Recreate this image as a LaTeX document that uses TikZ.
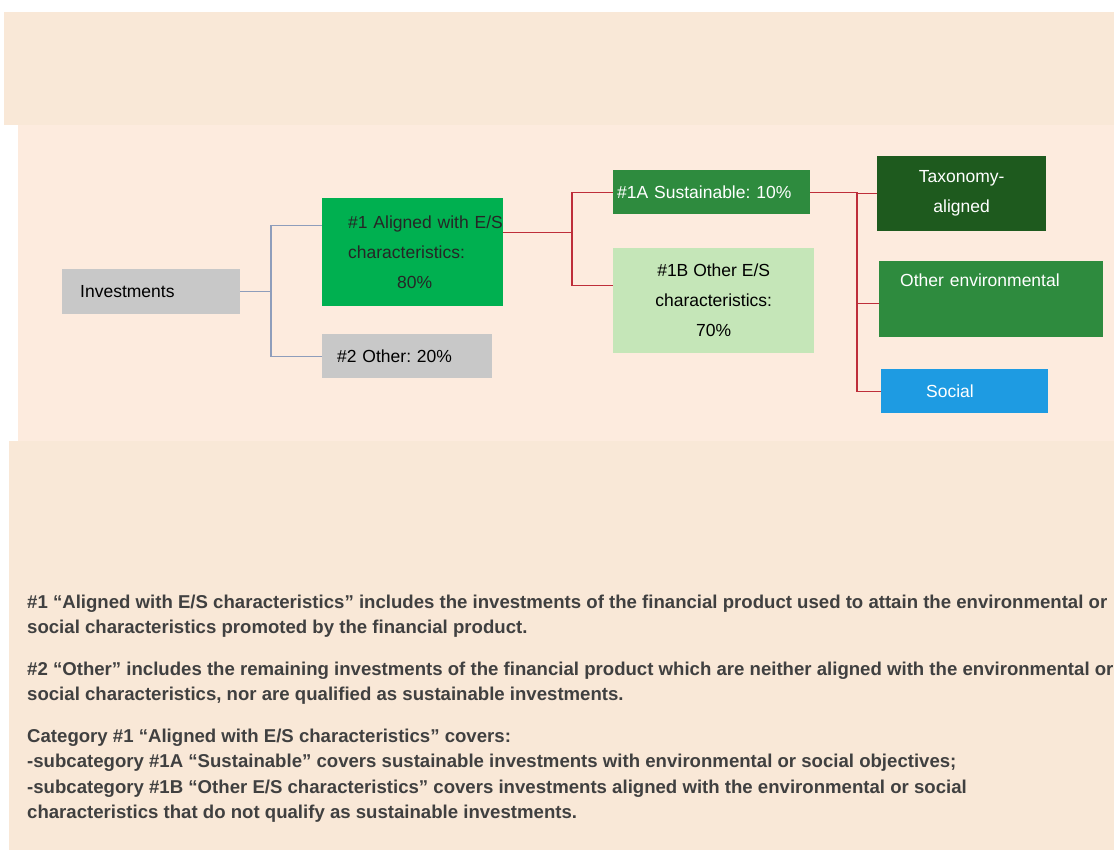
\documentclass[tikz,border=0pt]{standalone}
\usepackage{fontspec}
\setmainfont{Liberation Sans}
\frenchspacing
\definecolor{pagebeige}{HTML}{F9E8D7}
\definecolor{bandpink}{HTML}{FDEBDE}
\definecolor{boxgray}{HTML}{C8C8C8}
\definecolor{brightgreen}{HTML}{00B050}
\definecolor{midgreen}{HTML}{2E8B3E}
\definecolor{darkgreen}{HTML}{1E5A1E}
\definecolor{palegreen}{HTML}{C5E6B8}
\definecolor{socialblue}{HTML}{1E9BE2}
\definecolor{linkblue}{HTML}{8E9DBB}
\definecolor{linkred}{HTML}{BE2E3A}
\definecolor{notegray}{HTML}{404040}
\begin{document}
\begin{tikzpicture}[x=1pt,y=-1pt,
    catbox/.style={anchor=north west, inner sep=0pt, font=\fontsize{17.5}{30}\selectfont},
    note/.style={anchor=north west, inner sep=0pt, align=left, text=notegray,
      font=\fontsize{18.6}{25.5}\selectfont\bfseries},
    bluecon/.style={draw=linkblue, line width=1.2pt},
    redcon/.style={draw=linkred, line width=1.3pt}]
  % background
  \useasboundingbox (0,0) rectangle (1114,850);
  \fill[white] (0,0) rectangle (1114,850);
  \fill[pagebeige] (4,12) rectangle (1114,125);
  \fill[bandpink] (18,125) rectangle (1114,441);
  \fill[pagebeige] (9,441) rectangle (1114,850);

  % boxes
  \node[catbox, fill=boxgray, minimum width=178pt, minimum height=45pt,
    text width=142pt, align=left] (inv) at (62,269) {Investments};
  \node[catbox, fill=brightgreen, minimum width=181pt, minimum height=108pt,
    text width=129pt, align=left, text=black!85] (algn) at (322,198)
    {\mbox{\#1 Aligned with E/S}\\characteristics:\\\hspace*{49pt}80\%};
  \node[catbox, fill=boxgray, minimum width=170pt, minimum height=44pt,
    text width=140pt, align=left] (othr) at (322,334) {\#2 Other: 20\%};
  \node[catbox, fill=midgreen, minimum width=197pt, minimum height=44pt,
    text width=189pt, align=left, text=white] (sust) at (613,170)
    {\#1A Sustainable: 10\%};
  \node[catbox, fill=palegreen, minimum width=201pt, minimum height=105pt,
    align=center] (othes) at (613,248)
    {\#1B Other E/S\\characteristics:\\70\%};
  \node[catbox, fill=darkgreen, minimum width=169pt, minimum height=75pt,
    align=center, text=white] (taxo) at (877,156) {Taxonomy-\\aligned};
  \node[catbox, fill=midgreen, minimum width=224pt, minimum height=76pt,
    text width=182pt, align=left, text=white] (othenv) at (879,261)
    {Other environmental\\\strut};
  \node[catbox, fill=socialblue, minimum width=167pt, minimum height=44pt,
    text width=77pt, align=left, text=white] (soc) at (881,369) {Social};

  % connectors
  \coordinate (sp1) at (271,0);
  \coordinate (sp2) at (572,0);
  \coordinate (sp3) at (857,0);
  \draw[bluecon] (inv.east) -- (inv.east -| sp1) |- ([yshift=27pt]algn.west)
    (inv.east -| sp1) |- (othr.west);
  \draw[redcon] ([yshift=20pt]algn.east) -- ([yshift=20pt]algn.east -| sp2)
    |- (sust.west)
    ([yshift=20pt]algn.east -| sp2) |- ([yshift=15pt]othes.west);
  \draw[redcon] (sust.east) -- (sust.east -| sp3) |- (taxo.west)
    (sust.east -| sp3) |- ([yshift=-4pt]othenv.west)
    (sust.east -| sp3) |- (soc.west);

  % notes
  \node[note] (n1) at (27,594.5)
    {\#1 “Aligned with E/S characteristics” includes the investments of the financial product used to attain the environmental or\\
     social characteristics promoted by the financial product.};
  \node[note] (n2) at (27,661.5)
    {\#2 “Other” includes the remaining investments of the financial product which are neither aligned with the environmental or\\
     social characteristics, nor are qualified as sustainable investments.};
  \node[note] (n3) at (27,728.5)
    {Category \#1 “Aligned with E/S characteristics” covers:\\
     -subcategory \#1A “Sustainable” covers sustainable investments with environmental or social objectives;\\
     -subcategory \#1B “Other E/S characteristics” covers investments aligned with the environmental or social\\
     characteristics that do not qualify as sustainable investments.};
\end{tikzpicture}
\end{document}
